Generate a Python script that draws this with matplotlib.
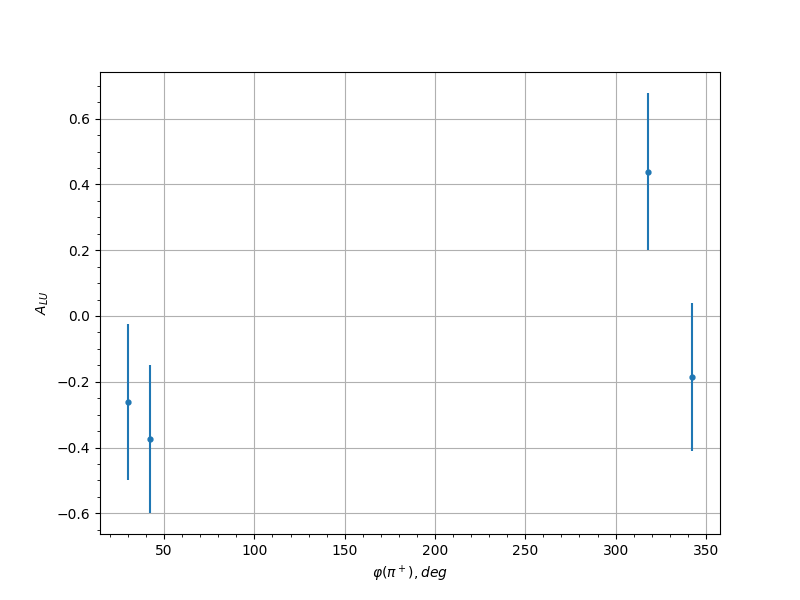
import numpy as np
import matplotlib
matplotlib.use("Agg")
import matplotlib.pyplot as plt

phi = [30.1, 42.3, 317.9, 342.2]
alu = [-0.261, -0.374, 0.439, -0.186]
alu_err = [0.238, 0.225, 0.239, 0.224]

fig, ax = plt.subplots(figsize=(8, 6), dpi=100)
ax.errorbar(phi, alu, yerr=alu_err, fmt='o', markersize=3.5)
ax.set_xlabel(r'$\varphi(\pi^+), deg$')
ax.set_ylabel(r'$A_{LU}$')
ax.minorticks_on()
ax.grid(which='major')
fig.savefig("out.png")
